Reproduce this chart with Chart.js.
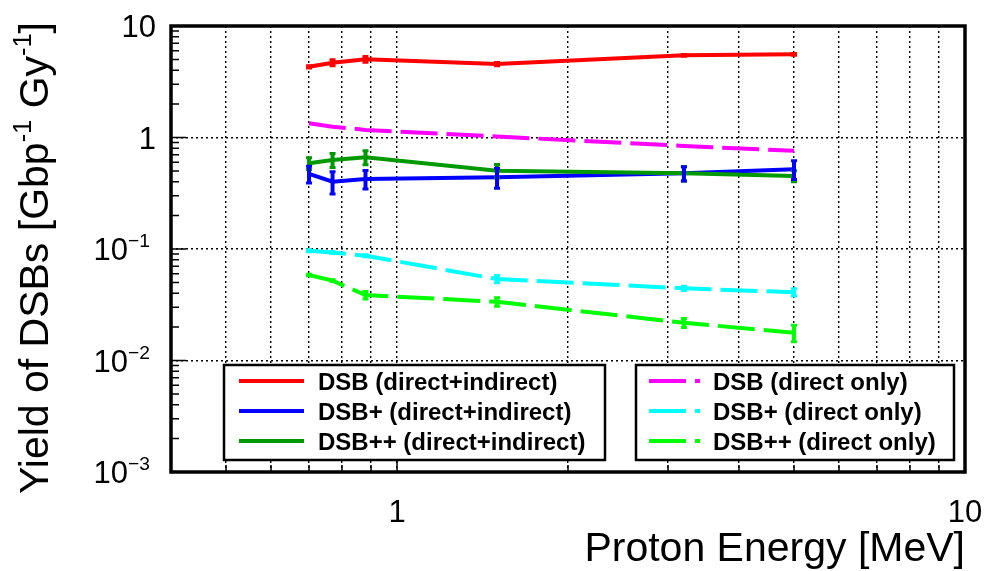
<!DOCTYPE html>
<html>
<head>
<meta charset="utf-8">
<script src="https://cdn.jsdelivr.net/npm/chart.js@4.4.1/dist/chart.umd.min.js"></script>
<style>
    html, body { margin: 0; padding: 0; background: #fff; }
    #wrap { width: 985px; height: 571px; }
</style>
</head>
<body>
<div id="wrap"><canvas id="chart" width="985" height="571"></canvas></div>
<script>
// proton energies [MeV]
const energies = [0.7, 0.77, 0.88, 1.5, 3.2, 5.0];

// direct+indirect
const dsbTotal = [4.31, 4.69, 5.02, 4.56, 5.46, 5.57];
const dsbTotalErr = [0.1, 0.3, 0.3, 0.15, 0.1, 0.1];
const dsbPlusTotal = [0.471, 0.402, 0.425, 0.44, 0.477, 0.519];
const dsbPlusTotalErr = [0.08, 0.09, 0.08, 0.09, 0.07, 0.1];
const dsbPPTotal = [0.587, 0.628, 0.664, 0.503, 0.477, 0.452];
const dsbPPTotalErr = [0.07, 0.09, 0.095, 0.07, 0.07, 0.05];

// direct only
const dsbDirect = [1.34, 1.25, 1.17, 1.02, 0.84, 0.76];
const dsbPlusDirect = [0.0966, 0.093, 0.087, 0.0538, 0.0444, 0.0409];
const dsbPlusDirectErr = [0.002, 0.002, 0.002, 0.004, 0.002, 0.003];
const dsbPPDirect = [0.0585, 0.052, 0.0386, 0.0336, 0.0218, 0.0177];
const dsbPPDirectErr = [0.001, 0.001, 0.003, 0.003, 0.002, 0.003];

// axis ticks / labels
const xGridValues = [0.5, 0.6, 0.7, 0.8, 0.9, 1, 2, 3, 4, 5, 6, 7, 8, 9];
const xLabelValues = [1, 10];
const yGridValues = [0.01, 0.1, 1];
const yLabelValues = [10, 1, 0.1, 0.01, 0.001];
const yLabelBase = ['10', '1', '10', '10', '10'];
const yLabelExp = ['', '', '\u22121', '\u22122', '\u22123'];

const FONT = '"Liberation Sans", Arial, Helvetica, sans-serif';
const DASH = [37, 9];

function pts(vals) {
    return energies.map((e, i) => ({ x: e, y: vals[i] }));
}

// index 0 is drawn on top
const datasets = [
    { label: 'DSB++ (direct+indirect)', data: pts(dsbPPTotal), errors: dsbPPTotalErr, borderColor: '#009900', box: 0, row: 2 },
    { label: 'DSB+ (direct+indirect)', data: pts(dsbPlusTotal), errors: dsbPlusTotalErr, borderColor: '#0000ff', box: 0, row: 1 },
    { label: 'DSB (direct+indirect)', data: pts(dsbTotal), errors: dsbTotalErr, borderColor: '#ff0000', box: 0, row: 0 },
    { label: 'DSB++ (direct only)', data: pts(dsbPPDirect), errors: dsbPPDirectErr, borderColor: '#00ff00', borderDash: DASH, box: 1, row: 2 },
    { label: 'DSB+ (direct only)', data: pts(dsbPlusDirect), errors: dsbPlusDirectErr, borderColor: '#00ffff', borderDash: DASH, box: 1, row: 1 },
    { label: 'DSB (direct only)', data: pts(dsbDirect), errors: null, borderColor: '#ff00ff', borderDash: DASH, box: 1, row: 0 }
];
datasets.forEach(d => {
    d.borderWidth = 4;
    d.pointRadius = 0;
    d.tension = 0;
    d.fill = false;
});

function drawRich(ctx, parts, x, y, size, weight) {
    let cx = x;
    parts.forEach(p => {
        const s = p.sup ? size * 0.62 : size;
        ctx.font = `${weight || ''} ${s}px ${FONT}`;
        ctx.fillText(p.t, cx, p.sup ? y - size * 0.42 : y);
        cx += ctx.measureText(p.t).width;
    });
    return cx - x;
}
function richWidth(ctx, parts, size) {
    let w = 0;
    parts.forEach(p => {
        ctx.font = `${p.sup ? size * 0.62 : size}px ${FONT}`;
        w += ctx.measureText(p.t).width;
    });
    return w;
}

const rootStyle = {
    id: 'rootStyle',
    afterDatasetsDraw(chart) {
        const { ctx, scales: { x, y } } = chart;
        ctx.save();
        chart.data.datasets.forEach(ds => {
            if (!ds.errors) return;
            ctx.strokeStyle = ds.borderColor;
            ds.data.forEach((p, i) => {
                const e = ds.errors[i];
                const px = x.getPixelForValue(p.x);
                const yl = y.getPixelForValue(p.y - e);
                const yh = y.getPixelForValue(p.y + e);
                ctx.lineWidth = 4;
                ctx.beginPath();
                ctx.moveTo(px, yl);
                ctx.lineTo(px, yh);
                ctx.stroke();
                ctx.lineWidth = 3;
                ctx.beginPath();
                ctx.moveTo(px - 3, yl); ctx.lineTo(px + 3, yl);
                ctx.moveTo(px - 3, yh); ctx.lineTo(px + 3, yh);
                ctx.stroke();
            });
        });
        ctx.restore();
    },
    afterDraw(chart) {
        const { ctx, chartArea: a, scales: { x, y } } = chart;
        ctx.save();

        // legends
        const boxes = [
            { l: 224, r: 605, sx0: 239, sx1: 304, tx: 318 },
            { l: 636, r: 954, sx0: 649, sx1: 700, tx: 713 }
        ];
        const rowsY = [381, 411, 441];
        boxes.forEach((b, bi) => {
            ctx.fillStyle = '#fff';
            ctx.fillRect(b.l, 365, b.r - b.l, 95);
            ctx.strokeStyle = '#000';
            ctx.lineWidth = 2.5;
            ctx.setLineDash([]);
            ctx.strokeRect(b.l, 365, b.r - b.l, 95);
            chart.data.datasets.filter(d => d.box === bi).forEach(d => {
                const cy = rowsY[d.row];
                ctx.strokeStyle = d.borderColor;
                ctx.lineWidth = 4;
                ctx.setLineDash(d.borderDash || []);
                ctx.beginPath();
                ctx.moveTo(b.sx0, cy);
                ctx.lineTo(b.sx1, cy);
                ctx.stroke();
                ctx.setLineDash([]);
                ctx.fillStyle = '#000';
                ctx.font = `bold 24px ${FONT}`;
                ctx.textAlign = 'left';
                ctx.textBaseline = 'alphabetic';
                ctx.fillText(d.label, b.tx, cy + 8.5);
            });
        });

        // frame
        ctx.setLineDash([]);
        ctx.strokeStyle = '#000';
        ctx.lineWidth = 3.5;
        ctx.strokeRect(a.left, a.top, a.right - a.left, a.bottom - a.top);

        // inward ticks
        ctx.lineWidth = 1.5;
        ctx.beginPath();
        yLabelValues.forEach(v => {
            const py = y.getPixelForValue(v);
            ctx.moveTo(a.left, py); ctx.lineTo(a.left + 15, py);
            if (v < 10) {
                for (let k = 2; k <= 9; k++) {
                    const my = y.getPixelForValue(v * k);
                    ctx.moveTo(a.left, my); ctx.lineTo(a.left + 8, my);
                }
            }
        });
        xGridValues.forEach(v => {
            const px = x.getPixelForValue(v);
            const len = v === 1 ? 12 : 7;
            ctx.moveTo(px, a.bottom); ctx.lineTo(px, a.bottom - len);
        });
        ctx.stroke();

        // tick labels
        ctx.fillStyle = '#000';
        ctx.textBaseline = 'alphabetic';
        const ts = 31;
        yLabelValues.forEach((v, i) => {
            const py = y.getPixelForValue(v) + ts * 0.716 / 2;
            const parts = [{ t: yLabelBase[i] }];
            if (yLabelExp[i]) parts.push({ t: yLabelExp[i], sup: true });
            const w = richWidth(ctx, parts, ts);
            const right = yLabelExp[i] ? 150 : 156;
            ctx.textAlign = 'left';
            drawRich(ctx, parts, right - w, py, ts);
        });
        ctx.font = `${ts}px ${FONT}`;
        ctx.textAlign = 'center';
        xLabelValues.forEach(v => {
            ctx.fillText(String(v), x.getPixelForValue(v), 522);
        });

        // axis titles
        ctx.font = `41px ${FONT}`;
        ctx.textAlign = 'right';
        ctx.fillText('Proton Energy [MeV]', 965, 561);

        const yTitle = [
            { t: 'Yield of DSBs [Gbp' }, { t: '-1', sup: true },
            { t: ' Gy' }, { t: '-1', sup: true }, { t: ']' }
        ];
        ctx.translate(48, 22);
        ctx.rotate(-Math.PI / 2);
        ctx.textAlign = 'left';
        const tw = richWidth(ctx, yTitle, 41);
        drawRich(ctx, yTitle, -tw, 0, 41);

        ctx.restore();
    }
};

const gridOpts = {
    display: true,
    drawTicks: false,
    color: '#000',
    lineWidth: 1.4
};

new Chart(document.getElementById('chart'), {
    type: 'line',
    data: { datasets: datasets },
    options: {
        responsive: false,
        animation: false,
        devicePixelRatio: 1,
        layout: { padding: { left: 171, right: 20, top: 26, bottom: 99 } },
        plugins: {
            legend: { display: false },
            tooltip: { enabled: false }
        },
        scales: {
            x: {
                type: 'logarithmic',
                min: 0.4,
                max: 10,
                ticks: { display: false },
                grid: gridOpts,
                border: { display: false, dash: [2, 3] },
                afterBuildTicks: s => { s.ticks = xGridValues.map(v => ({ value: v })); }
            },
            y: {
                type: 'logarithmic',
                min: 0.001,
                max: 10,
                ticks: { display: false },
                grid: gridOpts,
                border: { display: false, dash: [2, 3] },
                afterBuildTicks: s => { s.ticks = yGridValues.map(v => ({ value: v })); }
            }
        }
    },
    plugins: [rootStyle]
});
</script>
</body>
</html>
